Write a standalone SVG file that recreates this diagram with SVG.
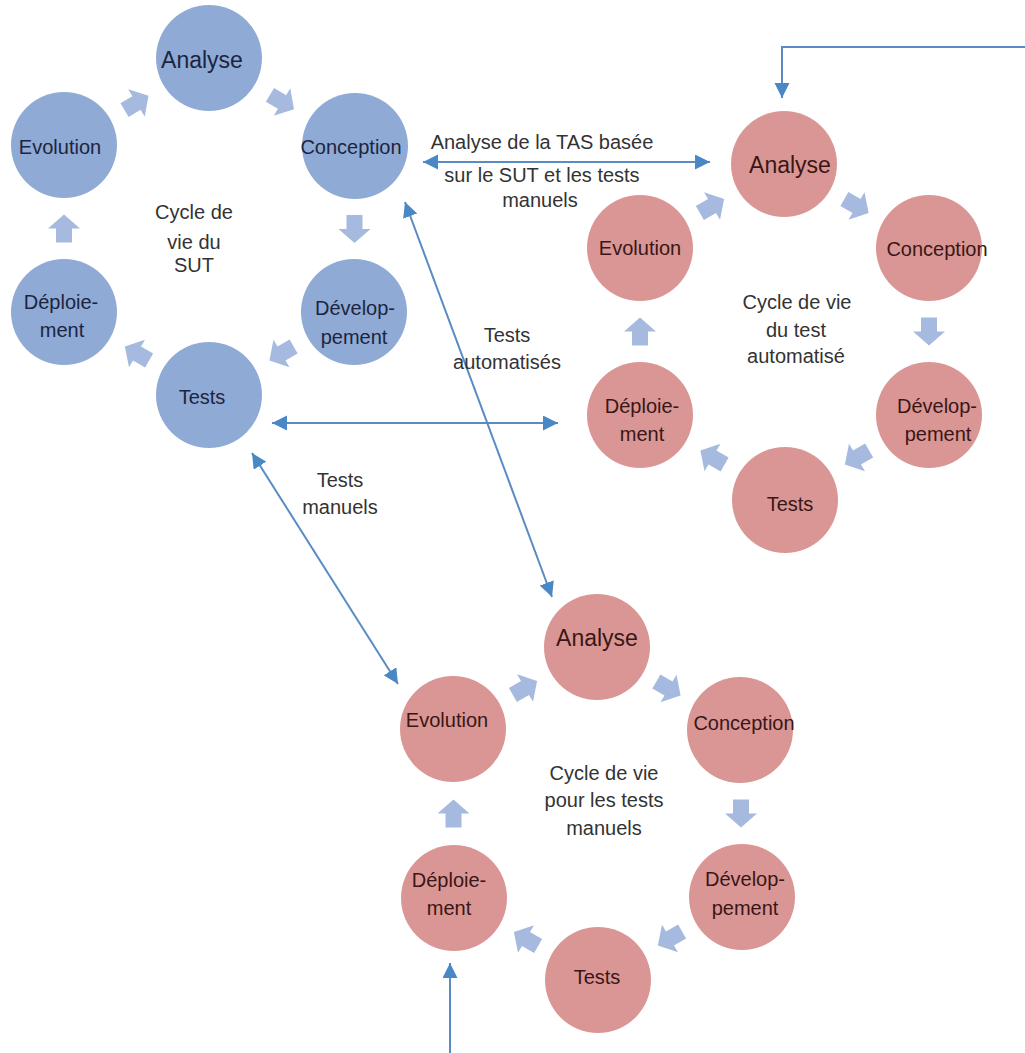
<svg xmlns="http://www.w3.org/2000/svg" width="1025" height="1053" viewBox="0 0 1025 1053">
<style>
  .bc { fill: #8FAAD5; }
  .rc { fill: #D99694; }
  .bt { font-family: "Liberation Sans", Arial, sans-serif; font-size: 20px; fill: #1C2540; text-anchor: middle; }
  .rt { font-family: "Liberation Sans", Arial, sans-serif; font-size: 20px; fill: #3A1616; text-anchor: middle; }
  .big { font-size: 23px; }
  .lbl { font-family: "Liberation Sans", Arial, sans-serif; font-size: 20px; fill: #333333; text-anchor: middle; }
  .conn { fill: none; stroke: #5A8CC3; stroke-width: 2; }
  .sa { fill: #A5BADE; }
</style>
<defs>
  <marker id="ah" markerUnits="userSpaceOnUse" markerWidth="16" markerHeight="16" refX="15" refY="7.5" orient="auto-start-reverse">
    <path d="M0,0 L15,7.5 L0,15 Z" fill="#4A87C5"/>
  </marker>
  <path id="smallArrow" d="M-14,-8 L0,-8 L0,-16 L14,0 L0,16 L0,8 L-14,8 Z"/>
</defs>
<rect width="1025" height="1053" fill="#FFFFFF"/>

<!-- Blue cycle: SUT -->
<g id="sut-analyse"><circle class="bc" cx="209" cy="58" r="53"/><text class="bt big" x="202" y="68">Analyse</text></g>
<g id="sut-conception"><circle class="bc" cx="355" cy="146" r="53"/><text class="bt" x="351" y="154">Conception</text></g>
<g id="sut-developpement"><circle class="bc" cx="354" cy="312" r="53"/><text class="bt" x="355" y="315">Dévelop-</text><text class="bt" x="354" y="344">pement</text></g>
<g id="sut-tests"><circle class="bc" cx="209" cy="395" r="53"/><text class="bt" x="202" y="404">Tests</text></g>
<g id="sut-deploiement"><circle class="bc" cx="64" cy="312" r="53"/><text class="bt" x="61" y="309">Déploie-</text><text class="bt" x="62" y="337">ment</text></g>
<g id="sut-evolution"><circle class="bc" cx="64" cy="145" r="53"/><text class="bt" x="60" y="154">Evolution</text></g>
<g id="sut-title"><text class="lbl" x="194" y="219">Cycle de</text><text class="lbl" x="194" y="249">vie du</text><text class="lbl" x="194" y="272">SUT</text></g>

<!-- Red cycle: automated tests -->
<g id="auto-analyse"><circle class="rc" cx="784" cy="164" r="53"/><text class="rt big" x="790" y="173">Analyse</text></g>
<g id="auto-conception"><circle class="rc" cx="929" cy="248" r="53"/><text class="rt" x="937" y="256">Conception</text></g>
<g id="auto-developpement"><circle class="rc" cx="929" cy="415" r="53"/><text class="rt" x="937" y="413">Dévelop-</text><text class="rt" x="938" y="441">pement</text></g>
<g id="auto-tests"><circle class="rc" cx="785" cy="500" r="53"/><text class="rt" x="790" y="511">Tests</text></g>
<g id="auto-deploiement"><circle class="rc" cx="640" cy="415" r="53"/><text class="rt" x="642" y="413">Déploie-</text><text class="rt" x="642" y="441">ment</text></g>
<g id="auto-evolution"><circle class="rc" cx="640" cy="248" r="53"/><text class="rt" x="640" y="255">Evolution</text></g>
<g id="auto-title"><text class="lbl" x="797" y="309">Cycle de vie</text><text class="lbl" x="796" y="337">du test</text><text class="lbl" x="796" y="363">automatisé</text></g>

<!-- Red cycle: manual tests -->
<g id="man-analyse"><circle class="rc" cx="597" cy="647" r="53"/><text class="rt big" x="597" y="646">Analyse</text></g>
<g id="man-conception"><circle class="rc" cx="740" cy="730" r="53"/><text class="rt" x="744" y="730">Conception</text></g>
<g id="man-developpement"><circle class="rc" cx="742" cy="897" r="53"/><text class="rt" x="745" y="886">Dévelop-</text><text class="rt" x="745" y="915">pement</text></g>
<g id="man-tests"><circle class="rc" cx="598" cy="980" r="53"/><text class="rt" x="597" y="984">Tests</text></g>
<g id="man-deploiement"><circle class="rc" cx="454" cy="898" r="53"/><text class="rt" x="449" y="887">Déploie-</text><text class="rt" x="449" y="915">ment</text></g>
<g id="man-evolution"><circle class="rc" cx="453" cy="729" r="53"/><text class="rt" x="447" y="727">Evolution</text></g>
<g id="man-title"><text class="lbl" x="604" y="780">Cycle de vie</text><text class="lbl" x="604" y="807">pour les tests</text><text class="lbl" x="604" y="835">manuels</text></g>

<!-- Cycle step arrows -->
<g id="cycle-arrows" class="sa">
  <use href="#smallArrow" transform="translate(136.5,103) rotate(-31)"/>
  <use href="#smallArrow" transform="translate(282,102) rotate(31)"/>
  <use href="#smallArrow" transform="translate(354.5,229) rotate(90)"/>
  <use href="#smallArrow" transform="translate(281.5,353.5) rotate(150)"/>
  <use href="#smallArrow" transform="translate(137,353.5) rotate(210)"/>
  <use href="#smallArrow" transform="translate(64,228.5) rotate(270)"/>

  <use href="#smallArrow" transform="translate(712,206) rotate(-30)"/>
  <use href="#smallArrow" transform="translate(856.5,206) rotate(30)"/>
  <use href="#smallArrow" transform="translate(929,331.5) rotate(90)"/>
  <use href="#smallArrow" transform="translate(857,457.5) rotate(150)"/>
  <use href="#smallArrow" transform="translate(712.5,457.5) rotate(210)"/>
  <use href="#smallArrow" transform="translate(640,331.5) rotate(270)"/>

  <use href="#smallArrow" transform="translate(525,688) rotate(-30)"/>
  <use href="#smallArrow" transform="translate(668.5,688.5) rotate(30)"/>
  <use href="#smallArrow" transform="translate(741,813.5) rotate(90)"/>
  <use href="#smallArrow" transform="translate(670,938.5) rotate(150)"/>
  <use href="#smallArrow" transform="translate(526,939) rotate(210)"/>
  <use href="#smallArrow" transform="translate(453.5,813.5) rotate(270)"/>
</g>

<!-- Connectors -->
<g id="connectors">
  <polyline class="conn" points="1030,47 782,47 782,98" marker-end="url(#ah)"/>
  <line class="conn" x1="423" y1="162" x2="710" y2="162" marker-start="url(#ah)" marker-end="url(#ah)"/>
  <line class="conn" x1="405" y1="202" x2="552" y2="597" marker-start="url(#ah)" marker-end="url(#ah)"/>
  <line class="conn" x1="252" y1="453" x2="398" y2="684" marker-start="url(#ah)" marker-end="url(#ah)"/>
  <line class="conn" x1="272" y1="423" x2="558" y2="423" marker-start="url(#ah)" marker-end="url(#ah)"/>
  <line class="conn" x1="450" y1="1060" x2="450" y2="963" marker-end="url(#ah)"/>
</g>

<!-- Connector labels -->
<g id="connector-labels">
  <text class="lbl" x="542" y="149">Analyse de la TAS basée</text>
  <text class="lbl" x="542" y="182">sur le SUT et les tests</text>
  <text class="lbl" x="540" y="207">manuels</text>
  <text class="lbl" x="507" y="342">Tests</text>
  <text class="lbl" x="507" y="369">automatisés</text>
  <text class="lbl" x="340" y="487">Tests</text>
  <text class="lbl" x="340" y="514">manuels</text>
</g>
</svg>
